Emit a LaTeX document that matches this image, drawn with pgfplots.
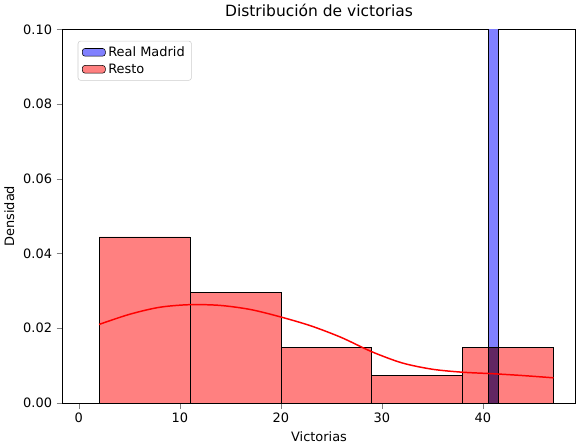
\documentclass[border=0pt]{standalone}
\usepackage{pgfplots}
\pgfplotsset{compat=1.18}
\usepackage{fontspec}
\setmainfont{DejaVu Sans}
\begin{document}
\fontsize{9.6}{11}\selectfont
\begin{tikzpicture}
\begin{axis}[
  scale only axis, width=381pt, height=277pt,
  xmin=-1.63, xmax=49.2, ymin=0, ymax=0.1,
  xtick={0,10,20,30,40}, ytick={0,0.02,0.04,0.06,0.08,0.1},
  yticklabel style={/pgf/number format/.cd,fixed,fixed zerofill,precision=2},
  /pgf/number format/assume math mode=true,
  tick align=outside, tick pos=left,
  xlabel={Victorias}, ylabel={Densidad},
  title={\fontsize{11.5}{13}\selectfont Distribución de victorias},
  legend pos=north west, legend cell align=left,
  legend style={draw=black!20, rounded corners=2pt, font=\fontsize{9.6}{11}\selectfont},
  clip=true,
]
\addplot[ybar interval, area legend, fill=blue!50, draw=black] coordinates {(40.5,1.0) (41.5,1.0)};
\addlegendentry{Real Madrid}
\addplot[ybar interval, area legend, fill=red!50, draw=black] coordinates {(2,0.04444) (11,0.02963) (20,0.01481) (29,0.00741) (38,0.01481) (47,0.01481)};
\addlegendentry{Resto}
\addplot[ybar interval, fill=blue!50!red!55!black!85, draw=black, forget plot] coordinates {(40.5,0.01481) (41.5,0.01481)};
\addplot[red, line width=1.1pt, smooth, forget plot] coordinates {(2,0.0210) (5,0.0237) (8,0.0256) (11,0.0263) (14,0.0261) (17,0.0250) (20,0.0230) (23,0.0206) (26,0.0175) (29,0.0137) (32,0.0107) (35,0.0090) (38,0.0082) (41,0.0078) (44,0.0073) (47,0.0067)};
\end{axis}
\end{tikzpicture}
\end{document}
